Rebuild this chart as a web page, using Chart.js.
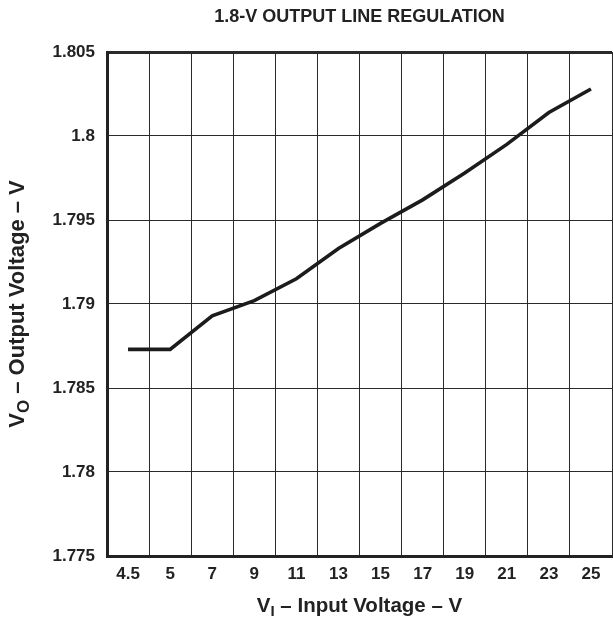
<!DOCTYPE html>
<html>
<head>
<meta charset="utf-8">
<script src="https://cdn.jsdelivr.net/npm/chart.js@4"></script>
<style>
html, body { margin: 0; padding: 0; background: #fff; }
</style>
</head>
<body>
<canvas id="myChart" width="613" height="623"></canvas>
<script>
// data
const inputVoltage = ["4.5", "5", "7", "9", "11", "13", "15", "17", "19", "21", "23", "25"];
const outputVoltage = [1.7873, 1.7873, 1.7893, 1.7902, 1.7915, 1.7933, 1.7948, 1.7962, 1.7978, 1.7995, 1.8014, 1.8028];
const yTickValues = [1.775, 1.78, 1.785, 1.79, 1.795, 1.8, 1.805];
const chartTitle = "1.8-V OUTPUT LINE REGULATION";
const xTitle = ["V", "I", " \u2013 Input Voltage \u2013 V"];
const yTitle = ["V", "O", " \u2013 Output Voltage \u2013 V"];

const fontFam = "'Liberation Sans', Arial, Helvetica, sans-serif";
const ink = "#222";

// axis titles need a subscript, so draw them by hand
function drawSub(ctx, parts, cx, cy, size) {
    const big = "bold " + size + "px " + fontFam;
    const small = "bold " + Math.round(size * 0.75) + "px " + fontFam;
    ctx.font = big;
    let w1 = ctx.measureText(parts[0]).width;
    let w3 = ctx.measureText(parts[2]).width;
    ctx.font = small;
    let w2 = ctx.measureText(parts[1]).width;
    let x = cx - (w1 + w2 + w3) / 2;
    ctx.fillStyle = ink;
    ctx.textAlign = "left";
    ctx.textBaseline = "middle";
    ctx.font = big;
    ctx.fillText(parts[0], x, cy);
    x += w1;
    ctx.font = small;
    ctx.fillText(parts[1], x, cy + size * 0.3);
    x += w2;
    ctx.font = big;
    ctx.fillText(parts[2], x, cy);
}

const axisTitles = {
    id: "axisTitles",
    afterDraw(chart) {
        const ctx = chart.ctx;
        const area = chart.chartArea;
        ctx.save();
        drawSub(ctx, xTitle, (area.left + area.right) / 2, 606, 20.5);
        ctx.translate(18, (area.top + area.bottom) / 2);
        ctx.rotate(-Math.PI / 2);
        drawSub(ctx, yTitle, 0, 0, 22);
        ctx.restore();
    }
};

let canvas = document.getElementById("myChart");
let chartObj = new Chart(canvas, {
    type: "line",
    data: {
        labels: inputVoltage,
        datasets: [{
            data: outputVoltage,
            borderColor: "#1c1c1c",
            borderWidth: 3.6,
            pointRadius: 0,
            tension: 0,
            fill: false
        }]
    },
    options: {
        responsive: false,
        animation: false,
        layout: { padding: { left: 0, right: 1, top: 0, bottom: 0 } },
        plugins: {
            legend: { display: false },
            tooltip: { enabled: false },
            title: {
                display: true,
                text: chartTitle,
                fullSize: false,
                color: ink,
                font: { family: fontFam, size: 18, weight: "bold" },
                padding: { top: 6, bottom: 24.4 }
            }
        },
        scales: {
            x: {
                type: "category",
                offset: true,
                grid: { offset: true, color: "#2a2a2a", lineWidth: 1, drawTicks: false },
                border: { display: true, color: "#222", width: 3 },
                ticks: {
                    color: ink,
                    padding: 8,
                    maxRotation: 0,
                    autoSkip: false,
                    font: { family: fontFam, size: 17, weight: "bold" }
                },
                afterFit: function (scale) { scale.height = 67; }
            },
            y: {
                min: 1.775,
                max: 1.805,
                grid: {
                    color: "#2a2a2a",
                    drawTicks: false,
                    lineWidth: (c) => (c.tick && c.tick.value === 1.805 ? 3 : 1)
                },
                border: { display: true, color: "#222", width: 3 },
                afterBuildTicks: function (scale) {
                    scale.ticks = yTickValues.map((v) => ({ value: v }));
                },
                ticks: {
                    color: ink,
                    padding: 12,
                    callback: (v) => String(v),
                    font: { family: fontFam, size: 17, weight: "bold" }
                },
                afterFit: function (scale) { scale.width = 107; }
            }
        }
    },
    plugins: [axisTitles]
});
</script>
</body>
</html>
